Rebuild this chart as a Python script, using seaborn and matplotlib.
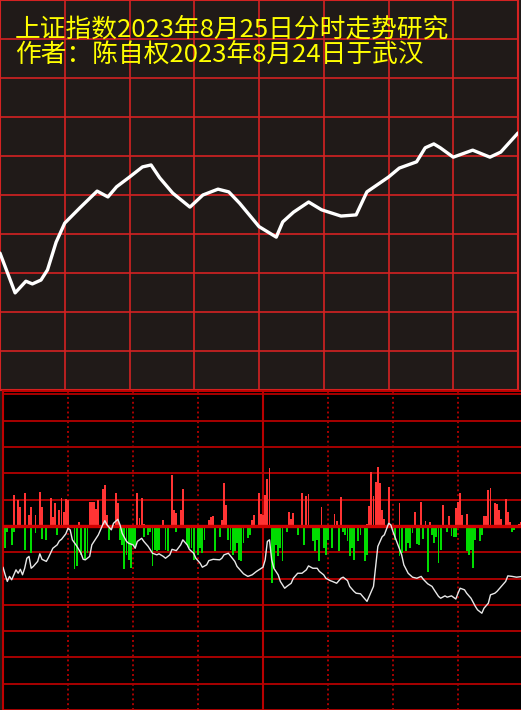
import pandas as pd
import seaborn as sns
import matplotlib.pyplot as plt

# top panel: index path, minutes since open vs level in grid rows
price_minute = [0, 7, 12, 15, 19, 22, 26, 30, 37, 45,
                50, 54, 60, 66, 70, 74, 80, 88, 94, 101,
                106, 111, 120, 128, 131, 136, 143, 149, 158, 165,
                170, 180, 185, 193, 197, 201, 204, 210, 219, 227,
                232, 240]
price_level = [3.51, 2.49, 2.79, 2.72, 2.82, 3.08, 3.79, 4.28, 4.67, 5.10,
               4.95, 5.21, 5.46, 5.72, 5.77, 5.44, 5.05, 4.69, 5.00, 5.15,
               5.08, 4.79, 4.19, 3.92, 4.31, 4.56, 4.82, 4.62, 4.46, 4.49,
               5.08, 5.46, 5.69, 5.85, 6.21, 6.31, 6.21, 5.97, 6.15, 5.97,
               6.10, 6.59]

# bottom panel: white line
flow_minute = [0, 1, 2, 3, 4, 6, 7, 8, 9, 10,
               11, 12, 13, 14, 16, 17, 18, 20, 21, 23,
               25, 26, 27, 29, 30, 31, 32, 34, 36, 37,
               38, 40, 41, 43, 44, 46, 47, 48, 50, 51,
               53, 54, 55, 57, 58, 60, 61, 62, 64, 65,
               67, 69, 71, 72, 74, 75, 77, 78, 80, 82,
               83, 85, 86, 88, 89, 91, 92, 94, 95, 97,
               100, 101, 102, 104, 105, 107, 108, 110, 111, 113,
               115, 117, 120, 121, 122, 123, 124, 125, 127, 128,
               130, 131, 133, 134, 136, 138, 140, 141, 143, 145,
               146, 148, 149, 151, 152, 154, 156, 157, 159, 160,
               162, 163, 165, 166, 168, 169, 171, 172, 173, 175,
               176, 178, 179, 180, 182, 184, 185, 187, 189, 191,
               193, 194, 196, 198, 199, 201, 202, 204, 205, 207,
               209, 210, 211, 213, 214, 216, 218, 219, 221, 222,
               224, 225, 227, 228, 230, 232, 233, 235, 237, 240]
flow_level = [-1.57, -1.86, -2.11, -1.92, -2.05, -1.67, -1.80, -1.65, -1.86, -1.61,
              -1.23, -1.16, -1.61, -1.54, -1.35, -1.06, -1.27, -1.35, -1.20, -0.85,
              -0.72, -0.57, -0.51, -0.30, -0.09, -0.15, -0.53, -0.76, -1.04, -1.27,
              -1.29, -1.16, -0.72, -0.47, -0.34, 0.04, 0.20, 0.04, -0.15, 0.10,
              0.25, 0.04, -0.28, -0.59, -0.66, -0.72, -0.85, -0.59, -0.47, -0.59,
              -0.78, -1.04, -1.10, -1.06, -1.16, -1.23, -1.10, -0.89, -0.94, -0.72,
              -0.53, -0.72, -0.89, -1.04, -1.23, -1.42, -1.57, -1.48, -1.32, -1.27,
              -1.29, -1.23, -1.10, -1.04, -1.14, -1.35, -1.54, -1.73, -1.82, -1.92,
              -1.86, -1.73, -1.57, -1.29, -0.59, -0.53, -1.29, -1.61, -1.86, -2.11,
              -2.37, -2.30, -2.18, -1.99, -1.80, -1.80, -1.67, -1.52, -1.61, -1.61,
              -1.73, -1.86, -1.99, -2.08, -2.11, -2.18, -1.99, -1.95, -2.08, -2.30,
              -2.49, -2.56, -2.58, -2.68, -2.87, -2.68, -2.30, -1.54, -0.78, -0.41,
              -0.34, 0.10, 0.04, -0.22, -0.66, -1.10, -1.48, -1.80, -1.95, -1.99,
              -1.92, -2.03, -2.20, -2.30, -2.43, -2.68, -2.75, -2.66, -2.71, -2.66,
              -2.78, -2.56, -2.37, -2.43, -2.56, -2.75, -3.06, -3.19, -3.32, -3.13,
              -2.94, -2.62, -2.56, -2.49, -2.30, -2.11, -1.90, -1.92, -1.95, -1.92]

# bottom panel: red (up) bars
red_minute = [5, 7, 8, 10, 12, 13, 15, 17, 18, 22,
              23, 24, 26, 27, 28, 29, 30, 35, 40, 41,
              42, 43, 44, 46, 47, 48, 52, 53, 62, 63,
              64, 65, 74, 78, 79, 80, 82, 83, 95, 96,
              97, 101, 102, 103, 115, 116, 118, 119, 120, 121,
              122, 123, 132, 133, 134, 138, 140, 141, 147, 153,
              154, 156, 168, 169, 170, 171, 172, 173, 174, 175,
              176, 178, 183, 190, 193, 195, 197, 203, 206, 209,
              210, 211, 212, 214, 222, 223, 224, 225, 227, 228,
              229, 230, 232, 233, 234, 238, 239]
red_value = [1.18, 0.99, 0.71, 1.24, 0.42, 0.71, 0.42, 1.28, 0.73, 1.08,
             0.35, 0.86, 0.61, 1.05, 0.54, 1.03, 0.99, 0.13, 0.92, 0.92,
             0.92, 0.63, 0.99, 1.39, 1.57, 0.42, 1.24, 0.86, 1.24, 0.29,
             1.08, 0.08, 0.23, 1.94, 0.61, 0.48, 0.61, 1.39, 0.23, 0.33,
             0.38, 0.23, 1.65, 0.80, 0.23, 0.42, 1.24, 0.46, 0.42, 1.18,
             1.77, 2.19, 0.51, 0.25, 0.48, 1.24, 1.14, 1.22, 0.71, 0.46,
             0.19, 1.09, 0.08, 0.76, 2.06, 1.14, 1.68, 2.23, 1.62, 0.61,
             0.25, 1.47, 0.86, 0.54, 0.90, 0.20, 0.16, 0.80, 0.38, 0.67,
             0.92, 1.27, 0.42, 0.44, 0.38, 0.38, 1.37, 1.43, 0.89, 0.84,
             0.61, 0.25, 1.01, 0.51, 0.16, 0.08, 0.13]

# bottom panel: green (down) bars
green_minute = [0, 1, 2, 4, 5, 10, 13, 15, 18, 20,
                25, 33, 34, 36, 38, 39, 49, 54, 55, 56,
                57, 58, 59, 60, 61, 65, 67, 68, 69, 70,
                71, 72, 75, 76, 80, 85, 86, 87, 88, 90,
                91, 92, 93, 98, 100, 104, 105, 106, 107, 108,
                109, 110, 111, 113, 114, 124, 125, 126, 127, 128,
                129, 131, 136, 139, 143, 144, 145, 146, 148, 149,
                150, 152, 155, 157, 158, 159, 160, 161, 162, 164,
                165, 167, 168, 181, 183, 184, 186, 187, 188, 189,
                191, 192, 194, 196, 198, 199, 200, 201, 202, 205,
                207, 208, 209, 214, 215, 216, 217, 218, 220, 221,
                235, 236]
green_value = [-0.53, -0.85, -0.22, -0.72, -0.22, -0.91, -1.04, -0.28, -0.51, -0.53,
               -0.34, -1.65, -1.54, -1.10, -1.29, -1.04, -0.53, -0.53, -0.72, -1.65,
               -1.10, -1.29, -1.61, -0.72, -0.85, -0.43, -0.34, -0.22, -1.54, -0.91,
               -0.97, -0.91, -0.91, -0.97, -0.22, -0.72, -0.85, -0.85, -1.29, -1.10,
               -0.85, -1.04, -0.53, -0.97, -0.41, -0.53, -0.91, -1.10, -0.97, -0.66,
               -1.29, -1.35, -0.66, -0.47, -0.34, -2.18, -1.61, -0.72, -1.16, -0.85,
               -1.35, -0.22, -0.34, -0.72, -0.59, -0.94, -0.53, -1.33, -0.85, -1.10,
               -0.53, -0.85, -0.94, -0.22, -0.34, -0.59, -1.16, -0.85, -1.29, -0.59,
               -0.34, -1.33, -1.10, -0.53, -1.16, -1.04, -0.97, -0.66, -0.85, -0.28,
               -0.68, -0.72, -0.51, -1.77, -0.34, -0.66, -0.41, -1.42, -0.91, -0.22,
               -0.38, -0.43, -0.41, -0.97, -1.10, -0.91, -1.61, -0.53, -0.59, -0.34,
               -0.22, -0.15]

title_lines = ['上证指数2023年8月25日分时走势研究',
               '作者：陈自权2023年8月24日于武汉']

price_df = pd.DataFrame({'minute': price_minute, 'level': price_level})
flow_df = pd.DataFrame({'minute': flow_minute, 'level': flow_level})
red_df = pd.DataFrame({'minute': red_minute, 'value': red_value})
green_df = pd.DataFrame({'minute': green_minute, 'value': green_value})

sns.set_style('dark')
plt.rcParams['font.family'] = ['Noto Sans CJK SC', 'DejaVu Sans']

top_bg = '#201a18'
top_red = '#d42222'
bot_red = '#a80000'

fig = plt.figure(figsize=(5.21, 7.10), dpi=100, facecolor=top_bg)

# ---- top panel
ax_top = fig.add_axes([0, 320 / 710, 518 / 521, 390 / 710])
ax_top.set_facecolor(top_bg)
sns.lineplot(data=price_df, x='minute', y='level', ax=ax_top,
             color='white', linewidth=2.4, zorder=3)
ax_top.set_xlim(0, 240)
ax_top.set_ylim(0, 10)
ax_top.set_xticks(range(0, 241, 30))
ax_top.set_yticks(range(0, 11))
ax_top.grid(True, color=top_red, linewidth=1.2)
ax_top.tick_params(length=0, labelbottom=False, labelleft=False)
ax_top.set_xlabel('')
ax_top.set_ylabel('')
for s in ax_top.spines.values():
    s.set_visible(True)
    s.set_color(top_red)
    s.set_linewidth(1.5)

# ---- bottom panel
ax_bot = fig.add_axes([3 / 521, 0, 520 / 521, 319 / 710])
ax_bot.set_facecolor('black')
sns.barplot(data=red_df, x='minute', y='value', orient='x', native_scale=True,
            color='#ff3434', saturation=1, width=0.85, linewidth=0,
            errorbar=None, ax=ax_bot, zorder=2)
sns.barplot(data=green_df, x='minute', y='value', orient='x', native_scale=True,
            color='#00dc00', saturation=1, width=0.85, linewidth=0,
            errorbar=None, ax=ax_bot, zorder=2)
ax_bot.axhline(0, color='#d00000', linewidth=2.4, zorder=3)
sns.lineplot(data=flow_df, x='minute', y='level', ax=ax_bot,
             color='#e8e8e8', linewidth=1.0, zorder=4)
ax_bot.set_xlim(0, 240)
ax_bot.set_ylim(-7, 5.13)
ax_bot.set_yticks(range(-7, 6))
ax_bot.set_xticks([])
ax_bot.yaxis.grid(True, color=bot_red, linewidth=1.4)
ax_bot.xaxis.grid(False)
ax_bot.set_axisbelow(True)
for m in [30, 60, 90, 150, 180, 210]:
    ax_bot.axvline(m, color=bot_red, linewidth=1.4, linestyle=(0, (1, 1.5)), zorder=1)
ax_bot.axvline(120, color='#b80000', linewidth=1.5, zorder=1)
ax_bot.tick_params(length=0, labelbottom=False, labelleft=False)
ax_bot.set_xlabel('')
ax_bot.set_ylabel('')
for name, s in ax_bot.spines.items():
    s.set_visible(name in ('left', 'top'))
    s.set_color('#c00000')
    s.set_linewidth(1.5)

# ---- title text
fig.text(15 / 521, 1 - 30 / 710, title_lines[0], color='#ffff00',
         fontsize=18.5, va='center', ha='left', fontweight='medium')
fig.text(15 / 521, 1 - 55 / 710, title_lines[1], color='#ffff00',
         fontsize=18.5, va='center', ha='left', fontweight='medium')

plt.savefig('out.png', dpi=100, facecolor=top_bg)
